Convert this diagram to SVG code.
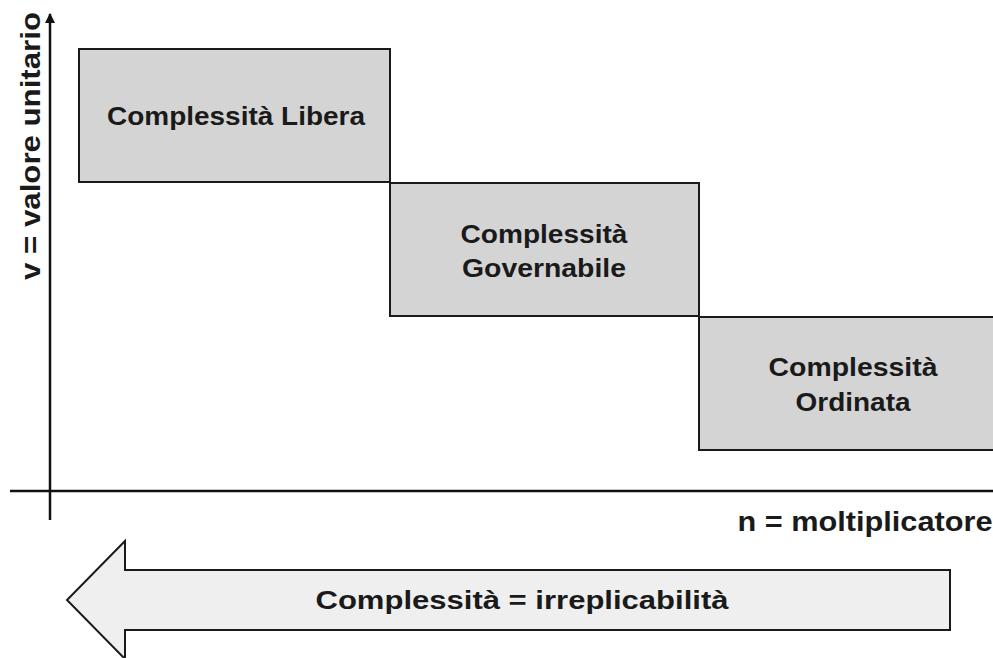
<svg xmlns="http://www.w3.org/2000/svg" width="993" height="658" viewBox="0 0 993 658">
<style>
.box{fill:#d4d4d4;stroke:#1a1a1a;stroke-width:2}
.lbl{font-family:"Liberation Sans",Arial,sans-serif;font-weight:bold;font-size:25px;fill:#1a1a1a;text-anchor:middle}
.axis{stroke:#111;stroke-width:2.5;fill:none}
</style>
<defs>
<marker id="ah" viewBox="0 0 10 10" refX="9" refY="5" markerWidth="4" markerHeight="4" orient="auto" markerUnits="strokeWidth">
<path d="M0,0 L10,5 L0,10 z" fill="#111"/>
</marker>
</defs>
<rect width="993" height="658" fill="#fff"/>
<g id="connectors">
<line class="axis" x1="50" y1="520" x2="50" y2="14" marker-end="url(#ah)"/>
<line class="axis" x1="10" y1="491" x2="993" y2="491"/>
</g>
<g id="box-libera">
<rect class="box" x="79" y="49" width="311" height="133"/>
<text class="lbl" x="236" y="125" textLength="258" lengthAdjust="spacingAndGlyphs">Complessità Libera</text>
</g>
<g id="box-governabile">
<rect class="box" x="390" y="183" width="309" height="133"/>
<text class="lbl" x="544" y="243" textLength="167" lengthAdjust="spacingAndGlyphs">Complessità</text>
<text class="lbl" x="544" y="277" textLength="164" lengthAdjust="spacingAndGlyphs">Governabile</text>
</g>
<g id="box-ordinata">
<rect class="box" x="699" y="317" width="300" height="133"/>
<text class="lbl" x="853" y="376" textLength="169" lengthAdjust="spacingAndGlyphs">Complessità</text>
<text class="lbl" x="853" y="411" textLength="115" lengthAdjust="spacingAndGlyphs">Ordinata</text>
</g>
<g id="label-y">
<text class="lbl" style="font-size:27px" transform="translate(40,146) rotate(-90)" textLength="268" lengthAdjust="spacingAndGlyphs">v = valore unitario</text>
</g>
<g id="label-x">
<text class="lbl" x="865" y="531" style="font-size:27px" textLength="255" lengthAdjust="spacingAndGlyphs">n = moltiplicatore</text>
</g>
<g id="arrow-complessita">
<path d="M950,570 L125,570 L125,541 L67,600 L125,659 L125,630 L950,630 Z" fill="#efefef" stroke="#1a1a1a" stroke-width="2"/>
<text class="lbl" x="522" y="609" style="font-size:26px" textLength="413" lengthAdjust="spacingAndGlyphs">Complessità = irreplicabilità</text>
</g>
</svg>
